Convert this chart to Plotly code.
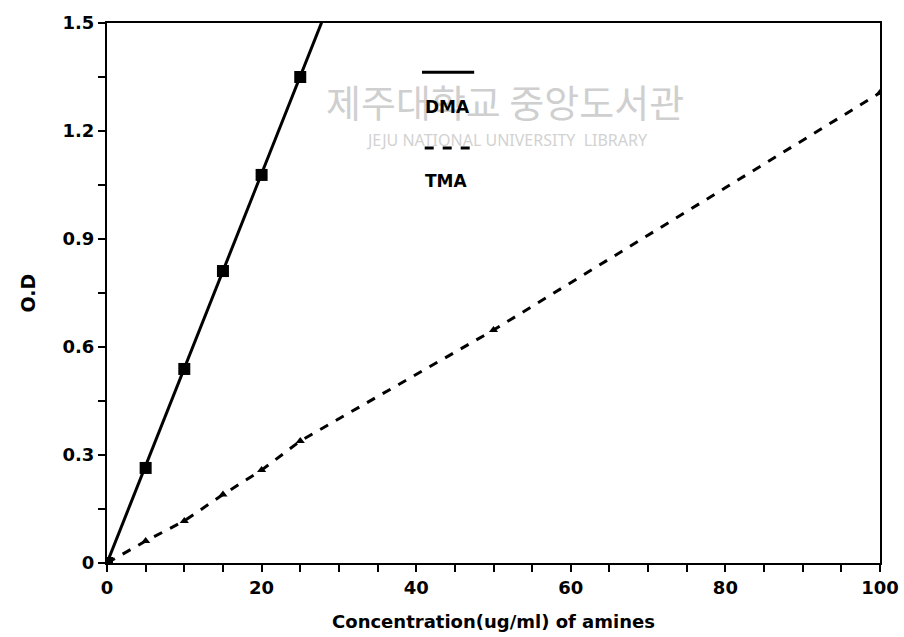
import numpy as np
import plotly.graph_objects as go

# Data
dma_conc = [0, 5, 10, 15, 20, 25]
dma_od = [0.0, 0.264, 0.539, 0.811, 1.078, 1.35]
tma_conc = [0, 5, 10, 15, 20, 25, 50, 100]
tma_od = [0.0, 0.061, 0.117, 0.19, 0.258, 0.339, 0.647, 1.306]
x_ticks = [0, 20, 40, 60, 80, 100]
y_ticks = [0, 0.3, 0.6, 0.9, 1.2, 1.5]
y_ticktext = ["0", "0.3", "0.6", "0.9", "1.2", "1.5"]

FONT = "DejaVu Sans, Arial, Helvetica, sans-serif"

# tick positions incl. minor ticks (labels only at major ticks)
x_all = list(range(0, 101, 5))
x_text = [f"<b>{v}</b>" if v in x_ticks else "" for v in x_all]
y_all = [round(i * 0.15, 2) for i in range(11)]
y_lab = dict(zip(y_ticks, y_ticktext))
y_text = [f"<b>{y_lab[v]}</b>" if v in y_lab else "" for v in y_all]

# DMA regression line extended to the top of the plot
slope = np.polyfit(dma_conc, dma_od, 1)[0]
x_ext = [0, 30]
y_ext = [0, slope * 30]

fig = go.Figure()

fig.add_trace(go.Scatter(x=x_ext, y=y_ext, mode="lines",
                         line=dict(color="black", width=3), showlegend=False,
                         hoverinfo="skip"))
fig.add_trace(go.Scatter(x=dma_conc, y=dma_od, mode="markers", name="DMA",
                         marker=dict(symbol="square", size=12, color="black"),
                         showlegend=False))
fig.add_trace(go.Scatter(x=tma_conc, y=tma_od, mode="lines+markers", name="TMA",
                         line=dict(color="black", width=3, dash="dash"),
                         marker=dict(symbol="triangle-up", size=8, color="black"),
                         showlegend=False))

annotations = [
    # watermark (scanned library stamp)
    dict(x=0.515, y=0.857, xref="paper", yref="paper", text="제주대학교 중앙도서관",
         xanchor="center", yanchor="middle", showarrow=False,
         font=dict(family="Noto Sans CJK KR", size=38, color="#cfcfcf")),
    dict(x=0.518, y=0.783, xref="paper", yref="paper", text="JEJU NATIONAL UNIVERSITY  LIBRARY",
         xanchor="center", yanchor="middle", showarrow=False,
         font=dict(family="Noto Sans", size=16, color="#d2d2d2")),
    # legend labels
    dict(x=0.441, y=0.844, xref="paper", yref="paper", text="<b>DMA</b>",
         xanchor="center", yanchor="middle", showarrow=False,
         font=dict(family=FONT, size=17, color="black")),
    dict(x=0.439, y=0.707, xref="paper", yref="paper", text="<b>TMA</b>",
         xanchor="center", yanchor="middle", showarrow=False,
         font=dict(family=FONT, size=17, color="black")),
]

shapes = [
    dict(type="line", xref="paper", yref="paper", x0=0.4075, x1=0.475, y0=0.909, y1=0.909,
         line=dict(color="black", width=3)),
    dict(type="line", xref="paper", yref="paper", x0=0.411, x1=0.47, y0=0.7685, y1=0.7685,
         line=dict(color="black", width=3, dash="dash")),
]

fig.update_layout(
    width=904, height=637,
    margin=dict(l=107, r=24, t=23, b=74),
    paper_bgcolor="white", plot_bgcolor="white",
    font=dict(family=FONT, color="black"),
    annotations=annotations, shapes=shapes,
    xaxis=dict(range=[0, 100], tickvals=x_all, ticktext=x_text, ticks="outside",
               ticklen=7, tickwidth=2, tickcolor="black", automargin=False,
               showline=True, linewidth=2, linecolor="black", mirror=True,
               showgrid=False, zeroline=False,
               tickfont=dict(family=FONT, size=18, color="black"),
               title=dict(text="<b>Concentration(ug/ml) of amines</b>",
                          font=dict(family=FONT, size=18), standoff=19)),
    yaxis=dict(range=[0, 1.5], tickvals=y_all, ticktext=y_text, ticks="outside",
               ticklen=7, tickwidth=2, tickcolor="black", automargin=False,
               showline=True, linewidth=2, linecolor="black", mirror=True,
               showgrid=False, zeroline=False,
               tickfont=dict(family=FONT, size=18, color="black"),
               title=dict(text="<b>O.D</b>", font=dict(family=FONT, size=19), standoff=22)),
)

fig.write_html("out.html")
